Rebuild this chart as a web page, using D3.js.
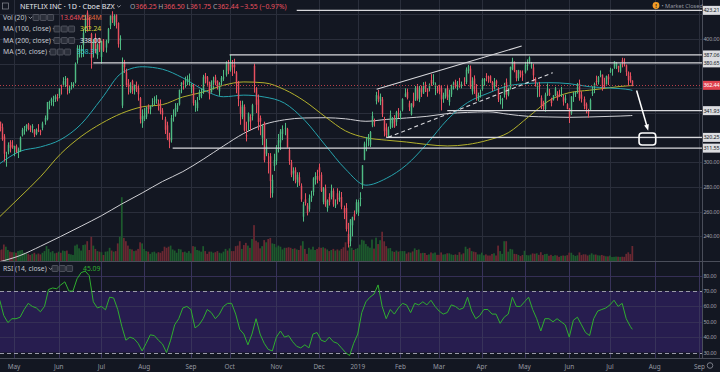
<!DOCTYPE html>
<html>
<head>
<meta charset="utf-8">
<script src="https://cdn.jsdelivr.net/npm/d3@7"></script>
<style>
  body { margin: 0; background: #131722; }
  svg { display: block; font-family: "Noto Sans", "DejaVu Sans", sans-serif; }
</style>
</head>
<body>
<div id="chart"></div>
<script>
// daily bars [open, high, low, close, volume (M)]
const apr18 = [
  [332.9,333.0,325.1,327.8,9.9],[328.4,331.5,317.5,318.7,10.5],[321.0,322.9,300.6,307.0,15.0],
  [305.0,308.6,296.5,305.5,13.0],[308.7,316.2,306.5,314.2,10.0],[316.5,318.0,308.0,311.7,8.5],
  [314.0,318.0,311.0,312.5,8.0]
];
const may18 = [
  [311.0,313.5,305.0,313.3,8.0],[313.0,314.5,307.8,308.0,7.5],[308.0,312.0,303.5,310.5,9.0],
  [309.0,321.0,308.5,320.1,9.5],[322.0,328.0,321.0,326.3,10.0],[326.0,329.5,322.5,326.9,7.5],
  [327.5,331.0,325.0,330.3,7.0],[331.0,332.0,326.0,327.0,6.5],[327.5,330.0,324.5,326.5,5.5],
  [328.0,331.0,324.0,329.4,6.5],[326.5,327.0,320.5,322.6,7.5],[323.0,327.5,322.0,326.6,6.0],
  [326.0,331.0,324.5,325.7,6.8],[325.5,326.5,322.0,325.2,6.0],[328.0,333.0,326.0,331.6,7.5],
  [333.0,338.0,330.5,336.0,9.0],[335.0,349.0,334.0,348.9,13.5],[349.0,350.0,343.0,349.0,11.0],
  [349.5,352.5,346.0,351.3,8.0],[349.0,354.0,345.5,349.7,9.0],[351.0,355.0,349.0,353.5,7.0],
  [353.0,355.5,349.5,351.6,7.5]
];
const jun18 = [
  [353.9,359.9,352.0,359.9,8.5],[362.0,363.0,355.0,361.8,7.5],[363.0,369.0,361.5,365.8,9.5],
  [367.0,370.0,361.0,367.5,9.0],[368.0,368.5,355.0,361.4,9.5],[358.0,362.5,356.0,360.6,6.5],
  [361.0,365.0,359.0,361.5,6.0],[362.0,365.0,360.5,363.8,5.5],[365.0,381.0,364.0,379.9,14.0],
  [383.0,395.0,380.0,392.9,15.0],[390.0,395.0,385.0,392.0,11.5],[390.0,395.0,385.0,390.4,9.5],
  [395.0,408.0,385.5,405.0,14.5],[408.0,419.5,405.0,416.8,15.0],[421.4,423.2,406.0,415.4,18.0],
  [416.0,418.0,408.0,411.1,10.0],[404.0,405.0,376.0,384.5,22.0],[389.0,400.0,385.0,399.4,14.0],
  [401.0,404.5,388.5,390.4,11.0],[387.0,396.5,384.0,395.4,9.0],[398.0,401.0,389.5,391.4,8.5]
];
const jul18 = [
  [385.5,398.5,380.0,398.2,8.0],[399.0,400.0,389.5,390.5,5.5],[393.0,399.5,389.0,398.4,8.5],
  [398.0,409.0,396.5,408.3,8.8],[411.0,419.0,408.0,419.0,12.0],[419.0,422.5,413.0,415.6,9.5],
  [411.5,420.0,410.5,418.7,8.5],[419.5,420.0,408.5,413.5,9.0],[413.0,413.5,393.0,395.8,16.0],
  [398.9,403.0,391.0,400.5,22.0],[346.0,385.0,344.0,379.5,58.0],[381.2,383.1,372.4,377.3,21.0],
  [373.0,376.0,361.0,362.2,18.0],[364.0,367.5,355.0,361.1,14.0],[357.0,365.0,356.0,362.7,11.0],
  [366.0,367.0,355.5,358.8,10.5],[358.0,363.0,355.0,362.9,9.0],[362.0,365.5,357.0,359.6,9.5],
  [360.0,363.0,350.0,355.2,11.0],[352.0,353.0,331.5,335.0,17.0],[331.8,343.0,328.0,337.5,16.0]
];
const aug18 = [
  [335.0,344.0,333.5,338.0,11.0],[337.0,345.0,335.0,344.5,9.0],[345.0,347.0,339.5,343.4,8.5],
  [343.0,346.0,339.0,345.7,6.5],[347.0,352.0,345.0,347.6,8.0],[349.0,353.5,346.5,349.4,8.5],
  [350.0,354.5,347.5,351.3,7.0],[348.0,351.0,342.0,345.6,8.0],[345.5,351.0,339.0,341.1,7.5],
  [342.0,344.0,334.5,338.7,9.0],[335.0,337.0,323.0,326.4,13.0],[330.0,333.0,318.0,319.6,12.0],
  [320.0,324.0,311.5,316.8,13.0],[318.0,338.5,316.0,336.0,14.0],[338.0,343.0,333.0,338.0,10.5],
  [338.0,348.0,337.0,344.0,9.5],[343.0,348.0,341.0,346.2,7.5],[347.0,359.0,346.0,358.8,11.0],
  [363.0,365.0,356.0,364.6,10.5],[364.5,366.5,359.0,364.3,8.0],[365.0,369.5,360.5,365.5,8.5],
  [365.0,370.5,362.5,367.5,7.5],[367.0,372.0,362.0,367.7,9.0]
];
const sep18 = [
  [361.0,364.0,356.0,363.6,7.0],[362.0,363.5,346.0,348.0,13.5],[347.0,350.5,341.0,347.0,13.0],
  [344.0,353.0,341.5,348.7,10.0],[353.0,359.0,350.5,357.0,9.5],[354.0,360.0,352.0,355.1,8.5],
  [357.0,371.0,355.5,369.0,13.5],[370.0,372.5,364.0,368.0,9.0],[369.0,370.0,361.5,364.6,6.5],
  [365.0,365.5,351.0,355.2,8.5],[357.0,366.5,356.5,365.0,8.5],[365.0,369.5,359.0,366.4,7.5],
  [369.0,371.0,362.5,364.4,8.0],[366.0,366.5,359.0,361.2,9.0],[357.5,365.0,354.0,364.2,7.5],
  [365.0,370.0,362.5,368.5,7.0],[368.0,375.0,366.0,369.0,8.5],[371.0,382.0,369.5,380.7,11.0],
  [380.0,383.0,371.5,374.1,9.5]
];
const oct18 = [
  [375.0,387.0,373.5,381.4,11.5],[379.0,383.0,370.0,377.1,9.0],[379.0,384.0,372.0,377.0,9.0],
  [373.0,374.0,356.0,363.7,13.5],[365.0,366.0,345.5,351.4,14.0],[345.0,350.0,330.5,339.4,18.0],
  [337.0,350.0,335.0,346.4,11.0],[345.0,347.0,325.0,325.9,14.5],[322.0,333.0,317.0,321.1,16.5],
  [333.0,340.5,325.5,339.6,14.0],[337.0,339.0,326.0,333.1,12.0],[337.5,347.5,334.0,346.4,20.0],
  [378.3,380.0,356.5,364.7,32.6],[360.0,361.0,340.0,346.7,18.5],[351.0,355.0,326.0,332.7,17.0],
  [336.0,338.0,322.0,333.1,11.5],[320.0,331.0,314.0,329.5,13.5],[332.0,333.0,300.0,301.8,19.0],
  [307.0,319.0,305.0,312.9,17.0],[300.0,307.5,291.0,299.8,20.0],[305.0,307.5,271.2,284.8,21.0],
  [275.0,290.0,271.5,285.8,16.0],[297.0,307.0,293.0,301.8,15.5]
];
const nov18 = [
  [301.0,314.0,298.0,312.0,12.5],[313.0,323.0,308.0,318.0,14.0],[316.0,327.0,310.0,325.0,13.0],
  [323.0,330.0,318.0,327.0,10.5],[328.0,332.0,322.0,328.0,12.0],[327.0,328.0,312.0,312.0,12.0],
  [310.0,312.0,298.0,301.0,12.5],[300.0,302.0,288.0,290.0,12.0],[291.0,296.0,285.0,293.0,11.0],
  [294.0,296.0,283.0,286.0,11.5],[284.0,292.0,280.0,290.0,10.5],[288.0,292.0,281.0,283.0,10.0],
  [281.0,283.0,268.0,270.0,14.0],[256.0,268.0,252.0,266.0,18.0],[270.0,275.0,265.0,267.0,11.0],
  [265.0,267.0,257.0,259.0,6.5],[262.0,274.0,260.0,271.0,12.0],[271.0,277.0,268.0,273.0,10.5],
  [276.0,288.0,273.0,287.0,13.0],[286.0,292.0,282.0,289.0,10.0],[289.0,294.0,283.0,286.0,11.0]
];
const dec18 = [
  [296.0,299.0,285.0,292.0,12.5],[290.0,292.0,276.0,277.0,12.0],[268.0,280.0,266.0,279.0,12.5],
  [279.0,282.0,264.0,266.0,11.5],[263.0,270.0,260.0,269.0,10.5],[272.0,275.0,265.0,268.0,9.0],
  [272.0,282.0,270.0,277.0,10.0],[277.0,279.0,264.0,266.0,11.0],[265.0,270.0,263.0,266.0,9.5],
  [275.0,279.0,266.0,269.0,10.5],[271.0,277.0,268.0,271.0,9.5],[272.0,276.0,262.0,264.0,11.0],
  [263.0,265.0,254.0,259.0,12.5],[263.0,267.0,244.0,246.0,17.0],[242.0,251.0,231.0,234.0,9.5],
  [236.0,254.0,232.0,253.7,14.5],[249.0,256.0,240.0,255.6,12.0],[258.0,261.0,253.0,256.1,10.0],
  [260.0,270.0,258.0,267.7,11.0]
];
const jan19 = [
  [259.3,269.8,256.6,267.7,11.7],[270.2,275.8,264.4,271.2,14.9],[281.9,297.8,278.5,297.6,19.3],
  [302.1,316.8,301.7,315.3,18.6],[319.9,320.6,309.0,320.3,15.4],[317.7,323.0,313.0,320.0,13.3],
  [314.1,325.4,312.5,324.7,12.1],[330.0,341.1,328.5,337.6,19.5],[334.2,335.5,329.0,332.9,11.3],
  [349.6,357.2,347.0,354.6,21.2],[354.0,358.8,348.6,351.4,15.4],[349.5,355.8,346.4,353.2,18.9],
  [351.0,353.0,336.7,339.1,26.6],[334.9,336.9,321.0,325.2,17.9],[328.3,331.6,320.2,322.0,13.5],
  [320.8,329.0,320.6,326.7,11.5],[328.3,342.0,327.0,338.1,11.8],[331.6,336.8,328.0,335.7,8.9],
  [334.8,338.3,328.0,328.9,8.3],[332.8,341.8,329.6,340.7,9.5],[339.7,344.0,336.0,339.5,8.5]
];
const feb19 = [
  [337.2,341.9,334.8,339.9,9.1],[342.6,352.0,341.3,351.3,9.0],[353.2,360.0,352.9,355.8,9.0],
  [357.0,359.8,351.0,352.2,6.7],[347.9,350.0,341.6,344.7,7.9],[339.0,348.0,338.0,347.6,7.6],
  [349.6,356.5,344.5,345.7,8.7],[350.0,361.9,350.0,360.0,11.5],[361.6,363.5,350.0,351.8,10.0],
  [351.4,362.0,348.8,359.1,10.5],[360.0,362.2,353.0,356.9,7.1],[355.8,365.0,355.5,361.9,7.4],
  [362.8,365.4,357.0,359.9,7.3],[359.9,360.0,353.2,357.0,5.5],[360.0,364.0,357.5,363.0,6.0],
  [366.8,371.5,362.0,363.9,7.8],[364.0,371.5,362.7,365.0,7.0],[361.0,364.8,354.5,362.9,7.7],
  [359.0,362.0,356.0,358.1,5.6]
];
const mar19 = [
  [362.3,362.9,355.2,357.3,5.6],[359.7,362.3,342.1,351.0,7.8],[351.5,356.5,348.3,354.3,5.9],
  [353.6,359.9,351.7,359.6,6.2],[360.0,362.9,350.5,352.6,7.0],[349.0,359.0,346.0,355.0,7.0],
  [355.0,363.0,353.0,362.5,6.0],[363.0,365.5,359.0,364.0,5.5],[365.0,367.0,360.0,361.0,6.0],
  [361.5,366.0,358.5,362.5,5.5],[363.0,368.5,360.5,361.0,8.0],[362.0,365.5,360.0,363.4,6.0],
  [364.0,369.0,362.0,363.8,7.0],[365.0,377.0,363.5,375.2,13.0],[374.0,379.0,372.0,377.9,11.0],
  [376.0,378.5,359.5,361.0,12.0],[357.5,369.0,355.0,366.2,9.0],[368.0,370.5,355.5,360.0,8.5],
  [359.0,363.5,350.0,353.4,8.0],[351.0,356.5,349.5,354.6,6.0],[356.0,359.0,352.5,356.6,6.0]
];
const apr19 = [
  [359.6,368.3,358.0,367.0,7.6],[366.3,368.4,362.2,367.7,5.2],[370.0,372.3,365.7,369.8,6.0],
  [369.0,370.3,364.5,367.9,5.0],[369.9,370.6,364.4,365.5,5.0],[365.1,365.9,357.8,361.4,6.4],
  [360.5,368.4,359.0,364.7,7.0],[366.0,367.0,361.0,363.9,5.0],[360.0,361.0,348.9,351.2,14.0],
  [351.0,354.5,347.0,351.0,9.0],[350.7,352.3,343.5,351.1,6.5],[355.0,364.5,352.5,359.5,18.0],
  [365.0,368.0,350.9,354.7,18.0],[355.0,360.5,353.5,360.4,8.5],[359.7,377.7,359.0,377.3,11.0],
  [375.5,384.8,374.7,381.9,10.5],[381.1,381.9,373.0,374.2,6.5],[374.5,374.8,365.7,368.3,6.3],
  [368.0,375.0,366.0,374.9,5.5],[373.7,374.6,368.8,371.8,4.5],[371.5,374.5,366.0,370.5,5.5]
];
const may19 = [
  [373.0,381.5,372.0,378.8,9.3],[378.0,383.5,374.5,379.1,5.4],[381.5,385.9,380.0,385.0,5.1],
  [377.7,381.4,376.0,378.7,5.8],[377.0,379.9,365.6,370.5,6.9],[367.9,369.0,361.4,364.4,6.6],
  [360.9,364.2,352.8,362.8,7.0],[361.6,365.2,353.1,361.0,5.6],[352.3,354.3,343.1,345.3,8.0],
  [348.7,349.9,342.5,345.6,5.4],[343.3,356.5,341.0,355.0,6.3],[356.4,364.0,353.9,359.3,6.5],
  [356.4,359.6,353.8,354.5,4.8],[351.2,352.4,345.4,348.1,5.6],[350.9,354.6,350.1,354.3,4.5],
  [354.5,361.2,353.6,359.7,5.3],[355.6,357.7,350.0,352.2,5.0],[354.5,359.0,353.0,354.4,3.8],
  [354.4,361.2,353.0,355.1,4.7],[353.1,354.7,346.0,349.2,5.0],[350.5,354.9,348.0,351.9,4.8],
  [347.2,348.0,343.0,343.3,5.3]
];
const jun19 = [
  [343.6,344.0,331.9,336.6,7.6],[340.0,353.7,338.5,353.4,7.5],[355.2,357.0,349.0,355.7,5.6],
  [355.6,357.8,353.0,357.1,4.6],[359.0,364.4,355.7,360.9,5.2],[363.7,367.1,350.0,352.0,7.8],
  [355.0,357.6,348.5,351.3,5.4],[351.4,353.4,343.0,345.6,6.1],[347.2,348.5,339.7,343.4,6.0],
  [341.6,343.4,336.2,339.7,5.0],[342.7,351.8,342.1,350.6,5.7],[355.6,361.5,353.8,357.1,7.0],
  [361.7,364.7,356.1,363.5,5.8],[365.9,370.3,362.3,365.2,5.9],[365.0,370.0,363.1,369.2,5.2],
  [370.6,374.5,369.0,371.0,5.0],[371.0,371.3,358.1,360.3,5.5],[362.3,368.6,360.1,362.2,4.8],
  [363.2,370.4,363.2,370.0,4.3],[369.5,371.5,362.7,367.3,4.2]
];
const jul19 = [
  [373.5,376.7,372.5,374.6,4.9],[374.9,376.0,370.3,375.4,3.6],[376.7,382.0,375.8,381.7,3.8],
  [378.3,381.4,375.6,380.6,4.0],[378.2,378.3,373.0,376.2,3.9],[373.5,380.0,372.5,379.9,3.7],
  [382.8,384.8,377.0,381.0,3.9],[381.1,384.4,377.7,379.5,3.8],[378.7,379.3,370.1,373.3,6.5],
  [372.9,373.7,362.3,366.6,7.9],[370.0,373.0,364.5,365.99,6.3],[366.25,366.5,361.75,362.44,13.64]
];

// moving averages read every 10 bars (last = final bar)
const maIdx = [0,10,20,30,40,50,60,70,80,90,100,110,120,130,140,150,160,170,180,190,200,210,220,230,240,250,260,270,280,290,300,310,311];
const ma50 = [299,309,312.5,318.5,331,351.5,372.5,377.5,375.5,368.5,359,353.2,354.5,353,348,334,314,294.5,281.5,287,298,315,334.5,348.5,356,362,364,364.6,363.8,361.3,360.3,358.8,358.31];
const ma100 = [256,272,288.3,307,321,331.6,339.8,345,346.8,353,357,362.5,365.2,364.5,359,349.5,337,325.5,320,318,316.5,314.5,313.3,314.5,318,324,337,350,356.5,358.5,360.5,362.2,362.24];
const ma200 = [219.5,224.5,232,240,248.3,256.8,266.3,275.2,284.5,292.5,302.5,313.3,323.5,330.8,334.5,336,336.2,335.3,333.3,334.8,336,337.3,339.5,340.5,341,339,337.3,336.8,336.5,336.8,337.3,337.9,338.0];

// RSI(14) read every 2 bars, last value is the final bar
const rsiStep = 2;
const rsi = [
  64,54,49.5,52,52,53,58,62,60,59,
  56.5,60,71,72,71.5,74,76,70,70,78,
  82,83,80,63,59,60,57.8,66,65.5,58,
  47,38,40,39,36,31,36,41.5,41,38,
  35.5,30,38,48,52,59,60,58,46,48,
  52,58,56,52,55,60,62,62,55,45,
  42,35,42,52,42,36,32,31,40,44,
  40,41,37,34,33,35,33,42,43,38,
  37,40,37,36,33,30,28,36,42,56,
  63,66,68,74,60,52,58,55,59,62,
  61,56,62,61,63,61,64,60,57,55,
  56,61,60,58,59,66,57,52,54,58,
  58,55,55,49,53,55,66,60,60,63,
  66,58,52,44,52,52,50,52,50,48,
  40,51,53,48,43,41,52,57,58,59,
  61,64,60,62,52,47,
  45.09
];

// horizontal levels drawn on the chart: price and start date
const levelPrices = [423.21, 387.06, 380.65, 341.93, 320.25, 311.55];
const levelStart  = ["2018-11-15", "2018-10-01", "2018-06-26", "2019-03-07", "2019-01-23", "2018-08-21"];
const lastPrice = 362.44;

const holidays = ["2018-05-28","2018-07-04","2018-09-03","2018-11-22","2018-12-05","2018-12-25",
  "2019-01-01","2019-01-21","2019-02-18","2019-04-19","2019-05-27","2019-07-04","2019-09-02"];

const legendExtra = { volMa: "5.84M" };

const bars = [].concat(apr18, may18, jun18, jul18, aug18, sep18, oct18, nov18, dec18,
  jan19, feb19, mar19, apr19, may19, jun19, jul19);

const W = 720, H = 372;
const plotR = 702;
const priceBottom = 261, rsiTop = 262, rsiBottom = 358;

const fmt = d3.timeFormat("%Y-%m-%d");
const days = d3.timeDay.range(new Date(2018, 3, 20), new Date(2019, 8, 7))
  .filter(d => d.getDay() !== 0 && d.getDay() !== 6 && !holidays.includes(fmt(d)));

const step = 2.034;
const x = d3.scaleBand().domain(days.map(fmt)).range([-1.26, -1.26 + days.length * step]);
const xi = i => x.range()[0] + (i + 0.5) * x.step();   // fractional bar index
const yP = d3.scaleLinear().domain([240, 400]).range([236.4, 39]);
const yV = d3.scaleLinear().domain([0, 80]).range([priceBottom, 173]);
const yR = d3.scaleLinear().domain([30, 80]).range([352.5, 275.7]);

const svg = d3.select("#chart").append("svg").attr("width", W).attr("height", H);
svg.append("rect").attr("width", W).attr("height", H).attr("fill", "#131722");

const defs = svg.append("defs");
defs.append("clipPath").attr("id", "cp").append("rect").attr("width", plotR).attr("height", priceBottom);
defs.append("clipPath").attr("id", "cr").append("rect").attr("y", rsiTop).attr("width", plotR).attr("height", rsiBottom - rsiTop);

/** grid */
const monthStarts = days.map((d, i) => i).filter(i => i > 0 && days[i].getMonth() !== days[i - 1].getMonth());
const grid = svg.append("g").attr("stroke", "#2a2e3b").attr("stroke-width", 1);
monthStarts.forEach(i => {
  const gx = Math.round(xi(i)) + 0.5;
  if (gx < plotR) grid.append("line").attr("x1", gx).attr("x2", gx).attr("y1", 0).attr("y2", rsiBottom);
});
d3.range(240, 440, 20).forEach(p => {
  grid.append("line").attr("x1", 0).attr("x2", plotR).attr("y1", Math.round(yP(p)) + 0.5).attr("y2", Math.round(yP(p)) + 0.5);
});

/** RSI pane */
const rsiG = svg.append("g").attr("clip-path", "url(#cr)");
rsiG.append("rect").attr("x", 0).attr("width", plotR).attr("y", yR(70)).attr("height", yR(30) - yR(70)).attr("fill", "#271d4f");
[80, 60, 50, 40].forEach(v => rsiG.append("line").attr("x1", 0).attr("x2", plotR)
  .attr("y1", Math.round(yR(v)) + 0.5).attr("y2", Math.round(yR(v)) + 0.5).attr("stroke", "#352f55"));
monthStarts.forEach(i => {
  const gx = Math.round(xi(i)) + 0.5;
  rsiG.append("line").attr("x1", gx).attr("x2", gx).attr("y1", rsiTop).attr("y2", rsiBottom).attr("stroke", "#38335a");
});
[70, 30].forEach(v => rsiG.append("line").attr("x1", 0).attr("x2", plotR)
  .attr("y1", Math.round(yR(v)) + 0.5).attr("y2", Math.round(yR(v)) + 0.5)
  .attr("stroke", "#9a9aa8").attr("stroke-dasharray", "4,3"));
const rsiPts = rsi.map((v, k) => [k === rsi.length - 1 ? bars.length - 1 : k * rsiStep, v]);
rsiG.append("path").datum(rsiPts)
  .attr("d", d3.line().x(d => xi(d[0])).y(d => yR(d[1])))
  .attr("fill", "none").attr("stroke", "#2fae2f").attr("stroke-width", 1);

/** price pane */
const pane = svg.append("g").attr("clip-path", "url(#cp)");
const bw = Math.max(1, x.step() * 0.72);

pane.append("g").selectAll("rect").data(bars).join("rect")
  .attr("x", (d, i) => xi(i) - x.step() / 2 + 0.15)
  .attr("width", x.step() - 0.3)
  .attr("y", d => yV(d[4]))
  .attr("height", d => priceBottom - yV(d[4]))
  .attr("fill", d => d[3] >= d[0] ? "#1d5a2d" : "#6a2832");

const maLine = vals => d3.line().curve(d3.curveMonotoneX)
  .x((v, k) => xi(maIdx[k])).y(v => yP(v))(vals);
[[ma200, "#cfcfd4"], [ma100, "#b3b12c"], [ma50, "#26a3ad"]].forEach(([vals, c]) => {
  pane.append("path").attr("d", maLine(vals)).attr("fill", "none").attr("stroke", c).attr("stroke-width", 1);
});

const candles = pane.append("g");
candles.selectAll("line").data(bars).join("line")
  .attr("x1", (d, i) => Math.round(xi(i)) + 0.5).attr("x2", (d, i) => Math.round(xi(i)) + 0.5)
  .attr("y1", d => yP(d[1])).attr("y2", d => yP(d[2]))
  .attr("stroke", d => d[3] >= d[0] ? "#4fbb83" : "#e8505f").attr("stroke-width", 1);
candles.selectAll("rect").data(bars).join("rect")
  .attr("x", (d, i) => Math.round(xi(i)) + 0.5 - bw / 2)
  .attr("width", bw)
  .attr("y", d => yP(Math.max(d[0], d[3])))
  .attr("height", d => Math.max(0.8, Math.abs(yP(d[0]) - yP(d[3]))))
  .attr("fill", d => d[3] >= d[0] ? "#4fbb83" : "#e8505f");

// current price line
pane.append("line").attr("x1", 0).attr("x2", plotR)
  .attr("y1", Math.round(yP(lastPrice)) + 0.5).attr("y2", Math.round(yP(lastPrice)) + 0.5)
  .attr("stroke", "#b8404a").attr("stroke-dasharray", "1,2");

// drawn levels
levelPrices.forEach((p, k) => {
  pane.append("line").attr("x1", x(levelStart[k]) + x.bandwidth() / 2).attr("x2", plotR)
    .attr("y1", yP(p)).attr("y2", yP(p)).attr("stroke", "#d8d8dc").attr("stroke-width", 1.2);
});

// channel line and dashed trend line (bar index, price)
const channel = [[185.3, 359.2], [256.6, 394.3]];
const trend = [[191, 320.3], [271.9, 372.7]];
pane.append("line").attr("x1", xi(channel[0][0])).attr("y1", yP(channel[0][1]))
  .attr("x2", xi(channel[1][0])).attr("y2", yP(channel[1][1])).attr("stroke", "#d8d8dc").attr("stroke-width", 1.1);
pane.append("line").attr("x1", xi(trend[0][0])).attr("y1", yP(trend[0][1]))
  .attr("x2", xi(trend[1][0])).attr("y2", yP(trend[1][1])).attr("stroke", "#d8d8dc")
  .attr("stroke-width", 1.1).attr("stroke-dasharray", "4,3");

// projection arrow and target box
const arrow = [[313.1, 358.3], [318.4, 328.0]];
const box = [[314.3, 323.8], [322.5, 314.1]];
const ax1 = xi(arrow[0][0]), ay1 = yP(arrow[0][1]), ax2 = xi(arrow[1][0]), ay2 = yP(arrow[1][1]);
pane.append("line").attr("x1", ax1).attr("y1", ay1).attr("x2", ax2).attr("y2", ay2)
  .attr("stroke", "#ffffff").attr("stroke-width", 1.5);
const ang = Math.atan2(ay2 - ay1, ax2 - ax1);
const head = [[ax2 + Math.cos(ang) * 3, ay2 + Math.sin(ang) * 3],
  [ax2 + Math.cos(ang + 2.5) * 4, ay2 + Math.sin(ang + 2.5) * 4],
  [ax2 + Math.cos(ang - 2.5) * 4, ay2 + Math.sin(ang - 2.5) * 4]];
pane.append("path").attr("d", "M" + head.join("L") + "Z").attr("fill", "#ffffff");
pane.append("rect").attr("x", xi(box[0][0])).attr("y", yP(box[0][1]))
  .attr("width", xi(box[1][0]) - xi(box[0][0])).attr("height", yP(box[1][1]) - yP(box[0][1]))
  .attr("rx", 3).attr("fill", "none").attr("stroke", "#ffffff").attr("stroke-width", 1.6);

/** pane borders */
svg.append("line").attr("x1", 0).attr("x2", W).attr("y1", priceBottom + 0.5).attr("y2", priceBottom + 0.5).attr("stroke", "#4a4e5a");
svg.append("line").attr("x1", 0).attr("x2", W).attr("y1", rsiBottom + 0.5).attr("y2", rsiBottom + 0.5).attr("stroke", "#4a4e5a");
svg.append("line").attr("x1", plotR + 0.5).attr("x2", plotR + 0.5).attr("y1", 0).attr("y2", rsiBottom).attr("stroke", "#4a4e5a");

/** price axis: small labels so they fit in the narrow scale strip */
const axisFont = 5.4, axisX = 703.4, tight = "-0.15px";
const boxed = levelPrices.concat([lastPrice]);
const priceTicks = d3.range(240, 440, 20).filter(p => boxed.every(b => Math.abs(yP(b) - yP(p)) > 8));
svg.append("g").selectAll("text").data(priceTicks).join("text")
  .attr("x", axisX).attr("y", p => yP(p) + 2).attr("font-size", axisFont).attr("letter-spacing", tight)
  .attr("fill", "#a3a6af").text(d3.format(".2f"));
levelPrices.forEach(p => {
  svg.append("rect").attr("x", 703).attr("y", yP(p) - 4.5).attr("width", 17).attr("height", 9).attr("fill", "#dcdde1");
  svg.append("text").attr("x", axisX).attr("y", yP(p) + 2).attr("font-size", axisFont).attr("letter-spacing", tight)
    .attr("fill", "#131722").text(d3.format(".2f")(p));
});
svg.append("rect").attr("x", 703).attr("y", yP(lastPrice) - 4.5).attr("width", 17).attr("height", 9).attr("fill", "#e0434e");
svg.append("text").attr("x", axisX).attr("y", yP(lastPrice) + 2).attr("font-size", axisFont).attr("letter-spacing", tight)
  .attr("fill", "#ffffff").text(d3.format(".2f")(lastPrice));

svg.append("g").selectAll("text").data([80, 70, 60, 50, 40, 30]).join("text")
  .attr("x", axisX).attr("y", v => yR(v) + 2).attr("font-size", axisFont).attr("letter-spacing", tight)
  .attr("fill", "#a3a6af").text(d3.format(".2f"));

/** time axis */
svg.append("g").selectAll("text").data(monthStarts).join("text")
  .attr("x", i => xi(i)).attr("y", 369).attr("text-anchor", "middle")
  .attr("font-size", 6.4).attr("fill", "#9598a1")
  .text(i => days[i].getMonth() === 0 ? days[i].getFullYear() : d3.timeFormat("%b")(days[i]));
svg.append("circle").attr("cx", 710).attr("cy", 365.5).attr("r", 2.8).attr("fill", "none").attr("stroke", "#787b86");

/** legend */
const leg = svg.append("g").attr("font-size", 6.8).attr("fill", "#c5c8d0");
function chevron(cx, cy) {
  leg.append("path").attr("d", `M${cx - 1.8},${cy - 0.8}L${cx},${cy + 1}L${cx + 1.8},${cy - 0.8}`)
    .attr("fill", "none").attr("stroke", "#b0b3bb").attr("stroke-width", 0.8);
}
function icons(ix, cy) {
  for (let k = 0; k < 3; k++) {
    leg.append("rect").attr("x", ix + k * 7.3).attr("y", cy - 3).attr("width", 6).attr("height", 6).attr("rx", 0.8)
      .attr("fill", "#2a2e39").attr("stroke", "#6b6e78").attr("stroke-width", 0.6);
  }
}
function row(cy, label, ix, values) {
  const t = leg.append("text").attr("x", 3).attr("y", cy + 2.4).text(label);
  chevron(3 + t.node().getComputedTextLength() + 4, cy);
  icons(ix, cy);
  values.forEach(([vx, txt, c]) => leg.append("text").attr("x", vx).attr("y", cy + 2.4).attr("fill", c).text(txt));
}

const last = bars[bars.length - 1], prev = bars[bars.length - 2];
leg.append("rect").attr("x", 2.5).attr("y", 3).attr("width", 6).attr("height", 6).attr("fill", "none").attr("stroke", "#8a8d96").attr("stroke-width", 0.7);
const title = leg.append("text").attr("x", 20).attr("y", 8.6).attr("font-size", 7.2).attr("fill", "#e6e8ee")
  .text("NETFLIX INC · 1D · Cboe BZX");
chevron(20 + title.node().getComputedTextLength() + 4, 6.2);
const ohlc = leg.append("text").attr("x", 130).attr("y", 8.6).attr("font-size", 6.8);
[["O", last[0]], ["H", last[1]], ["L", last[2]], ["C", last[3]]].forEach(([k, v]) => {
  ohlc.append("tspan").attr("fill", "#a3a6af").text(k);
  ohlc.append("tspan").attr("fill", "#e8505f").text(d3.format(".2f")(v) + " ");
});
const chg = last[3] - prev[3];
ohlc.append("tspan").attr("fill", "#e8505f")
  .text(d3.format(".2f")(chg).replace("-", "\u2212") + " (" + d3.format(".2f")(chg / prev[3] * 100).replace("-", "\u2212") + "%)");

row(17.5, "Vol (20)", 33, [[60, d3.format(".2f")(last[4]) + "M", "#e8505f"], [82, legendExtra.volMa, "#e0663c"]]);
row(29, "MA (100, close)", 54, [[80, d3.format(".2f")(ma100[ma100.length - 1]), "#d6d43a"]]);
row(40.5, "MA (200, close)", 54, [[80, d3.format(".2f")(ma200[ma200.length - 1]), "#e6e8ee"]]);
row(52, "MA (50, close)", 50, [[77, d3.format(".2f")(ma50[ma50.length - 1]), "#2ec0cc"]]);
row(268.5, "RSI (14, close)", 52, [[83, d3.format(".2f")(rsi[rsi.length - 1]), "#2fae2f"]]);

// market status
svg.append("circle").attr("cx", 656).attr("cy", 5.5).attr("r", 3.4).attr("fill", "#f39c26");
svg.append("text").attr("x", 656).attr("y", 7.6).attr("text-anchor", "middle").attr("font-size", 5.3)
  .attr("font-weight", "bold").attr("fill", "#131722").text("!");
svg.append("text").attr("x", 661.5).attr("y", 7.6).attr("font-size", 5.6).attr("fill", "#9598a1").text("• Market Closed");
</script>
</body>
</html>
